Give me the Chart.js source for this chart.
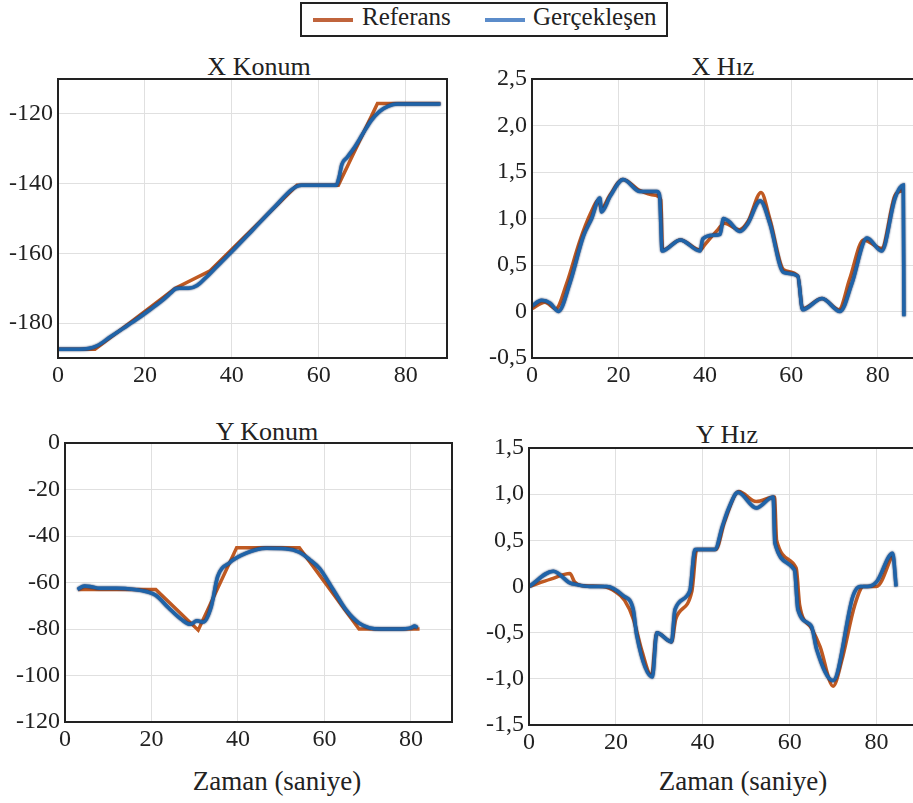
<!DOCTYPE html>
<html>
<head>
<meta charset="utf-8">
<script src="https://cdn.jsdelivr.net/npm/chart.js"></script>
<style>
    html, body {
        margin: 0;
        padding: 0;
        width: 913px;
        height: 803px;
        overflow: hidden;
        background: #fff;
    }
    body {
        position: relative;
        font-family: 'Liberation Serif', 'DejaVu Serif', serif;
        color: #222;
    }
    .box { position: absolute; }
    .lbl {
        position: absolute;
        white-space: nowrap;
        transform: translate(-50%, -50%);
    }
    #legend {
        position: absolute;
        left: 300px;
        top: 2px;
        width: 364px;
        height: 31px;
        border: 2px solid #222;
        font-size: 25px;
    }
    #legend .sw {
        position: absolute;
        top: 14px;
        width: 40px;
        height: 4px;
    }
    #legend .tx {
        position: absolute;
        top: -1px;
    }
</style>
</head>
<body>

<div id="legend">
    <span class="sw" style="left:11px;background:#c0643c"></span>
    <span class="tx" style="left:60px">Referans</span>
    <span class="sw" style="left:183px;background:#5b8cca"></span>
    <span class="tx" style="left:231px">Gerçekleşen</span>
</div>

<div class="lbl" style="left:259px;top:67px;font-size:26px">X Konum</div>
<div class="lbl" style="left:723px;top:67px;font-size:26px">X Hız</div>
<div class="lbl" style="left:267px;top:432px;font-size:26px">Y Konum</div>
<div class="lbl" style="left:727px;top:435px;font-size:26px">Y Hız</div>
<div class="lbl" style="left:277px;top:781px;font-size:27px">Zaman (saniye)</div>
<div class="lbl" style="left:743px;top:781px;font-size:27px">Zaman (saniye)</div>

<div class="box" id="boxXK"><canvas id="cXK"></canvas></div>
<div class="box" id="boxXH"><canvas id="cXH"></canvas></div>
<div class="box" id="boxYK"><canvas id="cYK"></canvas></div>
<div class="box" id="boxYH"><canvas id="cYH"></canvas></div>

<script>
    // tick labels
    const timeTicks = [0, 20, 40, 60, 80];
    const xKonumTicks = [-180, -160, -140, -120];
    const xHizTicks = [-0.5, 0, 0.5, 1.0, 1.5, 2.0, 2.5];
    const yKonumTicks = [-120, -100, -80, -60, -40, -20, 0];
    const yHizTicks = [-1.5, -1.0, -0.5, 0, 0.5, 1.0, 1.5];

    // --- X Konum ---
    const xKonumRefT = [0, 8.5, 27, 35, 55, 64.5, 73.5, 88];
    const xKonumRef  = [-187.5, -187.5, -170, -165, -140.5, -140.5, -117, -117];
    const xKonumGerT = [0, 5, 7, 9, 12, 15, 18, 21, 24, 26, 27, 28, 30, 32, 34, 36, 40, 45, 50, 54, 56, 60, 64, 64.7, 65.3, 66.5, 68, 70, 72, 74, 76, 78, 88];
    const xKonumGer  = [-187.5, -187.5, -187.3, -186.5, -184, -181.5, -179, -176.3, -173.5, -171.3, -170.2, -170, -170, -169.2, -167, -164.5, -159.5, -153, -146.5, -141.5, -140.5, -140.5, -140.5, -138, -134.5, -132.5, -130, -126, -122, -119.3, -117.8, -117.2, -117.2];

    // --- X Hız ---
    const xHizRefT = [0, 3, 5.5, 8, 11, 13.5, 15.5, 16, 18, 21, 25, 28.5, 29.8, 30.2, 34.3, 38.9, 40, 43, 44.5, 48, 50, 53, 55, 58.2, 61.5, 62.6, 67.1, 71, 73.5, 76.7, 80.9, 84, 85.7];
    const xHizRef  = [0.03, 0.1, 0.03, 0.3, 0.75, 1.05, 1.2, 1.1, 1.25, 1.42, 1.3, 1.25, 1.2, 0.66, 0.77, 0.66, 0.72, 0.88, 0.95, 0.88, 0.97, 1.28, 1.0, 0.45, 0.38, 0.03, 0.14, 0.02, 0.35, 0.77, 0.68, 1.25, 1.3];
    const xHizGerT = [0, 2.2, 4.2, 6.1, 8.8, 11.9, 13.8, 15.7, 16.1, 18.1, 21.1, 25, 28.9, 29.5, 30.1, 34.3, 38.9, 39.5, 42, 43.5, 44.3, 45.5, 48.1, 50, 52.8, 55, 58.2, 61.5, 62.6, 67.1, 71.3, 74, 77.5, 80.9, 84, 85.9, 86.05];
    const xHizGer  = [0.06, 0.12, 0.09, 0.0, 0.31, 0.81, 1.0, 1.22, 1.07, 1.24, 1.42, 1.29, 1.29, 1.25, 0.65, 0.77, 0.65, 0.78, 0.82, 0.83, 1.0, 0.97, 0.86, 0.95, 1.19, 0.95, 0.42, 0.38, 0.02, 0.14, 0.0, 0.3, 0.79, 0.65, 1.22, 1.36, -0.05];

    // --- Y Konum ---
    const yKonumRefT = [3, 21, 30.8, 39.7, 54.2, 68, 82];
    const yKonumRef  = [-63, -63, -80.5, -45, -45, -80, -80];
    const yKonumGerT = [2.9, 4.5, 6, 8, 12, 16, 19, 21, 24, 27, 29, 30.5, 32, 33.8, 35.3, 38, 41.9, 46.5, 51, 54.2, 56.5, 58.9, 62, 65, 68, 70.4, 73, 77, 80, 80.9, 81.5];
    const yKonumGer  = [-63, -61.5, -61.8, -62.5, -62.5, -63, -64, -65.5, -71, -76, -78, -76.5, -77, -70.5, -57.5, -51.6, -47.4, -45.3, -45.5, -47, -50, -54, -63, -71.8, -77.5, -79.5, -80, -80, -79.5, -78.7, -79.5];

    // --- Y Hız ---
    const yHizRefT = [0, 5, 9.4, 10.5, 12, 17, 20, 22, 24, 26, 28.2, 29.4, 32.8, 33.8, 37.5, 38.6, 43, 45, 48.3, 52.3, 56.5, 57, 61.5, 62.3, 65, 67, 70, 72, 75, 77, 80, 83.7];
    const yHizRef  = [0, 0.08, 0.14, 0.05, 0.01, 0.0, -0.06, -0.15, -0.35, -0.7, -0.97, -0.5, -0.6, -0.35, -0.05, 0.4, 0.4, 0.7, 1.03, 0.92, 0.97, 0.5, 0.2, -0.2, -0.45, -0.65, -1.08, -0.8, -0.2, 0.0, 0.0, 0.35];
    const yHizGerT = [0, 5.6, 9.4, 11, 14, 17.9, 21.7, 24, 24.8, 28.4, 29.4, 32.8, 33.6, 37, 38.2, 42.8, 44.5, 46, 48.1, 52.3, 56.2, 56.6, 61.1, 61.9, 65, 66.2, 70, 74.6, 76.2, 77.9, 80, 83.7, 84.5];
    const yHizGer  = [0, 0.165, 0.04, 0.02, 0.0, 0.0, -0.1, -0.25, -0.53, -0.98, -0.5, -0.6, -0.25, -0.05, 0.4, 0.4, 0.65, 0.85, 1.02, 0.85, 0.97, 0.47, 0.18, -0.25, -0.43, -0.68, -1.02, -0.1, 0.0, 0.0, 0.05, 0.36, 0.0];

    const REF_COLOR = '#c05a22';
    const GER_COLOR = '#1f63a8';
    const Y_AXIS_W = 56, X_AXIS_H = 40, PAD_TOP = 20, PAD_RIGHT = 10;

    const pts = (t, v) => t.map((x, i) => ({ x: x, y: v[i] }));
    const comma = v => (Math.abs(v) < 1e-9 ? '0' : v.toFixed(1).replace('.', ','));
    const plain = v => String(Math.round(v));
    const setTicks = list => (s => { s.ticks = list.map(v => ({ value: v })); });

    // black frame around the plot area
    const frame = {
        id: 'frame',
        afterDatasetsDraw(chart) {
            const { ctx, chartArea: a } = chart;
            ctx.save();
            ctx.strokeStyle = '#222';
            ctx.lineWidth = 2;
            ctx.strokeRect(a.left, a.top, a.right - a.left, a.bottom - a.top);
            ctx.restore();
        }
    };

    // dark edge on the measured line
    const glow = {
        id: 'glow',
        beforeDatasetDraw(chart, args) {
            if (chart.data.datasets[args.index].glow) {
                chart.ctx.save();
                chart.ctx.shadowColor = '#0a2250';
                chart.ctx.shadowBlur = 2;
            }
        },
        afterDatasetDraw(chart, args) {
            if (chart.data.datasets[args.index].glow) chart.ctx.restore();
        }
    };

    function makeChart(id, plot, xMax, yMin, yMax, yTicks, refT, ref, gerT, ger, refTension, yFmt) {
        const box = document.getElementById('box' + id);
        const left = plot.l - Y_AXIS_W;
        const top = plot.t - PAD_TOP;
        const w = plot.r + PAD_RIGHT - left;
        const h = plot.b + X_AXIS_H - top;
        box.style.left = left + 'px';
        box.style.top = top + 'px';
        const cv = document.getElementById('c' + id);
        cv.width = w;
        cv.height = h;
        cv.style.width = w + 'px';
        cv.style.height = h + 'px';

        const tickFont = { family: "'Liberation Serif', serif", size: 24 };

        new Chart(cv, {
            type: 'line',
            data: {
                datasets: [
                    {
                        label: 'Referans',
                        data: pts(refT, ref),
                        borderColor: REF_COLOR,
                        borderWidth: 3.5,
                        pointRadius: 0,
                        tension: refTension,
                        cubicInterpolationMode: refTension ? 'monotone' : 'default',
                        order: 2
                    },
                    {
                        label: 'Gerçekleşen',
                        data: pts(gerT, ger),
                        borderColor: GER_COLOR,
                        borderWidth: 3.5,
                        pointRadius: 0,
                        cubicInterpolationMode: 'monotone',
                        glow: true,
                        order: 1
                    }
                ]
            },
            options: {
                responsive: false,
                animation: false,
                devicePixelRatio: 1,
                layout: { padding: { top: PAD_TOP, right: PAD_RIGHT, left: 0, bottom: 0 } },
                plugins: {
                    legend: { display: false },
                    title: { display: false },
                    tooltip: { enabled: false }
                },
                scales: {
                    x: {
                        type: 'linear',
                        min: 0,
                        max: xMax,
                        grid: { color: '#e0e0e0', drawTicks: false },
                        border: { display: false },
                        afterBuildTicks: setTicks(timeTicks),
                        ticks: {
                            padding: 3,
                            color: '#222',
                            font: tickFont,
                            maxRotation: 0,
                            callback: plain
                        },
                        afterFit(s) { s.height = X_AXIS_H; }
                    },
                    y: {
                        min: yMin,
                        max: yMax,
                        grid: { color: '#e0e0e0', drawTicks: false },
                        border: { display: false },
                        afterBuildTicks: setTicks(yTicks),
                        ticks: {
                            padding: 5,
                            color: '#222',
                            font: tickFont,
                            callback: yFmt
                        },
                        afterFit(s) { s.width = Y_AXIS_W; }
                    }
                }
            },
            plugins: [frame, glow]
        });
    }

    makeChart('XK', { l: 58, t: 79, r: 447, b: 358 }, 89.5, -190, -110, xKonumTicks,
        xKonumRefT, xKonumRef, xKonumGerT, xKonumGer, 0, plain);
    makeChart('XH', { l: 532, t: 79, r: 921, b: 358 }, 90, -0.5, 2.5, xHizTicks,
        xHizRefT, xHizRef, xHizGerT, xHizGer, 0.4, comma);
    makeChart('YK', { l: 65, t: 443, r: 452, b: 722 }, 89.5, -120, 0, yKonumTicks,
        yKonumRefT, yKonumRef, yKonumGerT, yKonumGer, 0, plain);
    makeChart('YH', { l: 529, t: 448, r: 920, b: 725 }, 90, -1.5, 1.5, yHizTicks,
        yHizRefT, yHizRef, yHizGerT, yHizGer, 0.4, comma);
</script>
</body>
</html>
